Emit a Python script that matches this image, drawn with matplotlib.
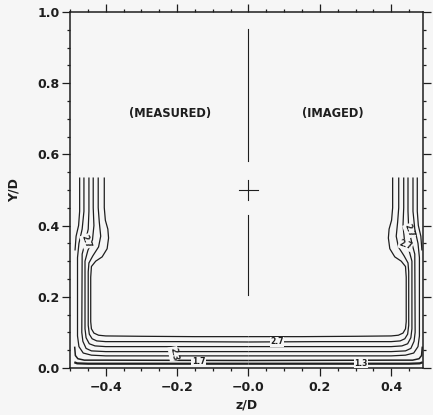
import matplotlib
matplotlib.use("Agg")
import matplotlib.pyplot as plt
from matplotlib.ticker import MultipleLocator

# Contour lines of the measured half (z < 0); the imaged half is the mirror.
c1_z = [-0.404, -0.404, -0.401, -0.394, -0.392, -0.396, -0.410, -0.428, -0.440, -0.442,
        -0.442, -0.440, -0.433, -0.420, -0.400, -0.300, -0.150, 0.0]
c1_y = [0.535, 0.450, 0.415, 0.390, 0.365, 0.335, 0.312, 0.300, 0.285, 0.255,
        0.130, 0.110, 0.098, 0.092, 0.090, 0.089, 0.088, 0.088]
c2_z = [-0.421, -0.421, -0.418, -0.414, -0.420, -0.436, -0.447, -0.449, -0.449,
        -0.446, -0.438, -0.425, -0.400, -0.200, 0.0]
c2_y = [0.535, 0.450, 0.410, 0.370, 0.340, 0.315, 0.295, 0.270, 0.120,
        0.095, 0.082, 0.076, 0.074, 0.074, 0.073]
c3_z = [-0.435, -0.435, -0.433, -0.437, -0.450, -0.458, -0.458, -0.455, -0.446, -0.430, -0.400, 0.0]
c3_y = [0.535, 0.450, 0.400, 0.360, 0.330, 0.300, 0.110, 0.085, 0.068, 0.062, 0.060, 0.060]
c4_z = [-0.447, -0.447, -0.449, -0.458, -0.466, -0.467, -0.464, -0.455, -0.440, -0.400, 0.0]
c4_y = [0.535, 0.440, 0.390, 0.350, 0.320, 0.100, 0.075, 0.055, 0.048, 0.046, 0.046]
c5_z = [-0.461, -0.461, -0.466, -0.475, -0.479, -0.479, -0.475, -0.463, -0.440, -0.400, 0.0]
c5_y = [0.535, 0.440, 0.390, 0.350, 0.310, 0.090, 0.060, 0.042, 0.036, 0.034, 0.034]
c6_z = [-0.473, -0.473, -0.476, -0.483, -0.486]
c6_y = [0.535, 0.440, 0.400, 0.370, 0.330]
c7_z = [-0.487, -0.485, -0.478, -0.460, -0.400, 0.0]
c7_y = [0.060, 0.035, 0.026, 0.022, 0.022, 0.021]
c8_z = [-0.488, -0.480, -0.450, 0.0]
c8_y = [0.016, 0.013, 0.012, 0.012]

contours = [(c1_z, c1_y, 0.9), (c2_z, c2_y, 0.9), (c3_z, c3_y, 0.9), (c4_z, c4_y, 0.9),
            (c5_z, c5_y, 0.9), (c6_z, c6_y, 0.9), (c7_z, c7_y, 1.1), (c8_z, c8_y, 1.6)]

# contour level labels: z, y, text, rotation
label_z = [0.080, -0.455, 0.450, 0.440, -0.210, -0.140, 0.315]
label_y = [0.073, 0.355, 0.385, 0.345, 0.040, 0.018, 0.013]
label_txt = ["2.7", "2.7", "2.7", "2.7", "2.3", "1.7", "1.3"]
label_rot = [0, -70, -70, -20, -80, 0, 0]

# centre line of the duct and its mid point
axis_y = [(0.205, 0.430), (0.580, 0.952)]
centre = (0.0, 0.5)
cross_half = 0.027

xticks = [-0.4, -0.2, 0.0, 0.2, 0.4]
xtick_labels = ["\u22120.4", "\u22120.2", "\u22120.0", "0.2", "0.4"]
yticks = [0.0, 0.2, 0.4, 0.6, 0.8, 1.0]

ink = "#1e1e1e"
bg = "#f6f6f6"

fig = plt.figure(figsize=(4.33, 4.15), dpi=100, facecolor=bg)
ax = fig.add_axes([0.1617, 0.1133, 0.816, 0.858], facecolor=bg)

for z, y, lw in contours:
    ax.plot(z, y, color=ink, lw=lw, solid_capstyle="butt")
    ax.plot([-v for v in z], y, color=ink, lw=lw, solid_capstyle="butt")

for z, y, t, r in zip(label_z, label_y, label_txt, label_rot):
    ax.text(z, y, t, fontsize=5.5, fontweight="bold", color=ink, rotation=r,
            ha="center", va="center",
            bbox=dict(facecolor=bg, edgecolor="none", pad=0.3))

for y0, y1 in axis_y:
    ax.plot([0, 0], [y0, y1], color=ink, lw=0.8)
cz, cy = centre
ax.plot([cz - cross_half, cz + cross_half], [cy, cy], color=ink, lw=0.8)
ax.plot([cz, cz], [cy - cross_half, cy + cross_half], color=ink, lw=0.8)

ax.text(-0.22, 0.716, "(MEASURED)", fontsize=8.3, fontweight="bold", color=ink,
        ha="center", va="center")
ax.text(0.237, 0.716, "(IMAGED)", fontsize=8.3, fontweight="bold", color=ink,
        ha="center", va="center")

ax.set_xlim(-0.5, 0.49)
ax.set_ylim(0.0, 1.0)
ax.set_xticks(xticks)
ax.set_xticklabels(xtick_labels)
ax.set_yticks(yticks)
ax.xaxis.set_minor_locator(MultipleLocator(0.05))
ax.yaxis.set_minor_locator(MultipleLocator(0.05))
ax.tick_params(which="both", direction="out", top=True, right=True, colors=ink,
               labelsize=9, width=0.9)
ax.tick_params(axis="x", which="major", length=5.5, pad=4)
ax.tick_params(axis="y", which="major", length=5.5, pad=2)
ax.tick_params(which="minor", length=2.2)
for lbl in ax.get_xticklabels() + ax.get_yticklabels():
    lbl.set_fontweight("bold")
for s in ax.spines.values():
    s.set_linewidth(1.1)
    s.set_color(ink)

ax.set_xlabel("z/D", fontsize=9, fontweight="bold", color=ink, labelpad=3)
ax.set_ylabel("Y/D", fontsize=9, fontweight="bold", color=ink, labelpad=12)

fig.savefig("out.png", dpi=100, facecolor=bg)
